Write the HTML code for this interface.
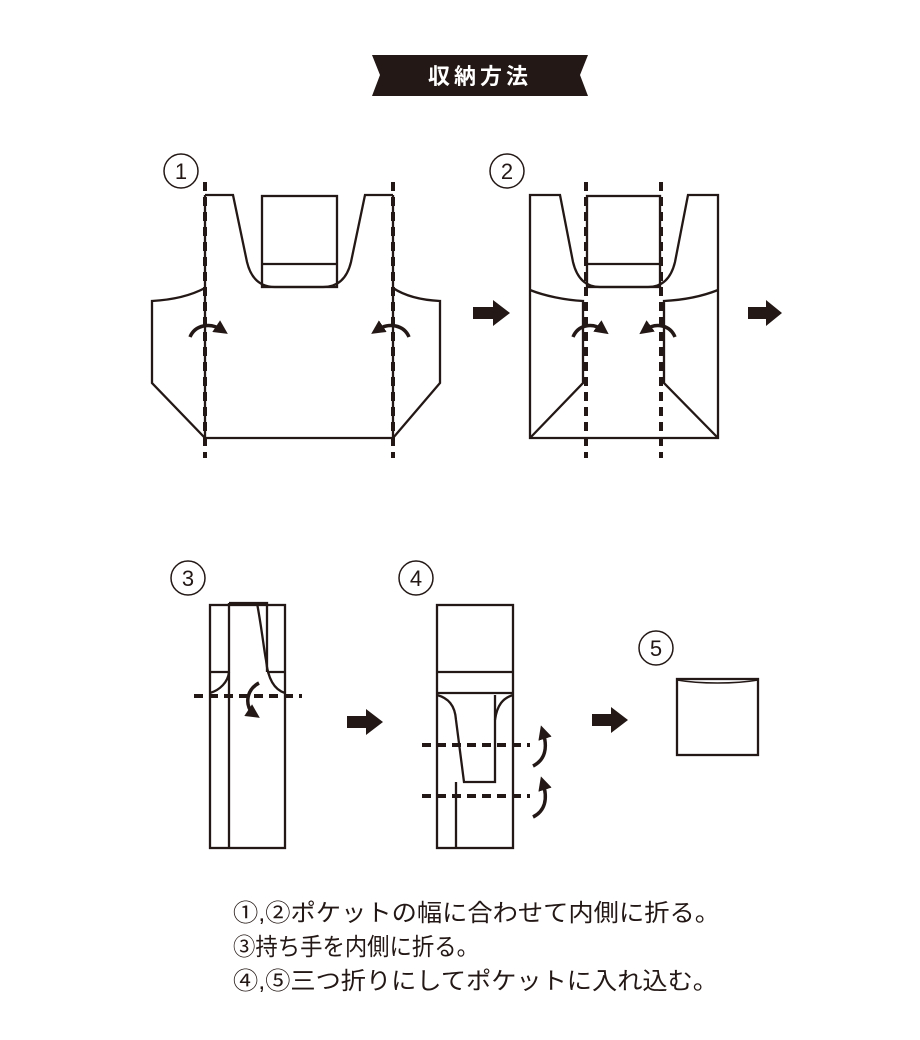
<!DOCTYPE html>
<html><head><meta charset="utf-8"><style>
html,body{margin:0;padding:0;background:#fff;}
svg{display:block;}
text{font-family:"Liberation Sans","Noto Sans CJK JP",sans-serif;fill:#231815;}
</style></head><body>
<svg width="920" height="1040" viewBox="0 0 920 1040" xmlns="http://www.w3.org/2000/svg">
<defs>
<marker id="ah" viewBox="0 0 10 10" refX="5" refY="5" markerWidth="4" markerHeight="4" orient="auto"><path d="M0,0 L10,5 L0,10 Z" fill="#231815"/></marker>
</defs>
<path d="M372,55 L588,55 L580,75 L588,96 L372,96 L380,75 Z" fill="#231815"/>
<text x="480" y="84" font-size="22" font-weight="bold" text-anchor="middle" style="fill:#fff" letter-spacing="4">収納方法</text>

<g fill="none" stroke="#231815" stroke-width="2.3">
<circle cx="181" cy="171" r="17" stroke-width="1.5"/>
<path d="M205,195 L233,195 L247,262 Q253,287 275,287 L323,287 Q345,287 351,262 L365,195 L393,195"/>
<rect x="262" y="196" width="75" height="91"/>
<line x1="262" y1="264" x2="337" y2="264"/>
<path d="M205,288 C190,296 170,300 152,301 L152,383 L205,438 L393,438 L440,383 L440,301 C420,300 405,296 393,288"/>
<line x1="205" y1="195" x2="205" y2="438"/>
<line x1="393" y1="195" x2="393" y2="438"/>
<circle cx="507" cy="171" r="17" stroke-width="1.5"/>
<path d="M530,195 L560,195 L573,262 Q579,287 600,287 L648,287 Q669,287 675,262 L688,195 L718,195 L718,438 L530,438 Z"/>
<rect x="587" y="196" width="73" height="91"/>
<line x1="587" y1="264" x2="660" y2="264"/>
<path d="M530,290 C545,296 565,300 583,301 L583,383 L530,438"/>
<path d="M718,290 C703,296 683,300 664,301 L664,383 L718,438"/>
<circle cx="188" cy="578" r="17" stroke-width="1.5"/>
<rect x="210" y="605" width="75" height="243"/>
<line x1="229" y1="603" x2="229" y2="848"/>
<path d="M229,603 L267,603 L267,672"/>
<path d="M257,603 C262,630 264,650 266,660 C268,680 275,690 285,693"/>
<line x1="210" y1="672" x2="229" y2="672"/>
<line x1="267" y1="672" x2="285" y2="672"/>
<path d="M210,693 C220,690 228,682 229,672"/>
<circle cx="416" cy="578" r="17" stroke-width="1.5"/>
<rect x="437" y="605" width="76" height="243"/>
<line x1="437" y1="672" x2="513" y2="672"/>
<line x1="437" y1="693" x2="513" y2="693"/>
<path d="M437,695 C448,698 455,705 456,720 L464,782 L495,782 L495,695"/>
<path d="M513,695 C503,698 497,705 495,720"/>
<line x1="456" y1="782" x2="456" y2="848"/>
<circle cx="656" cy="648" r="17" stroke-width="1.5"/>
<rect x="677" y="679" width="81" height="76"/>
<path d="M677,680 C700,684 735,684 758,680" stroke-width="1.5"/>
</g>

<g fill="none" stroke="#231815" stroke-width="4" stroke-dasharray="9,6">
<line x1="205" y1="182" x2="205" y2="458"/>
<line x1="393" y1="182" x2="393" y2="458"/>
<line x1="586" y1="182" x2="586" y2="458"/>
<line x1="661" y1="182" x2="661" y2="458"/>
<line x1="194" y1="696" x2="302" y2="696"/>
<line x1="422" y1="745" x2="530" y2="745"/>
<line x1="422" y1="796" x2="530" y2="796"/>
</g>

<g fill="none" stroke="#231815" stroke-width="3.5" marker-end="url(#ah)">
<path d="M190,337 C195,325 210,322 222,330"/>
<path d="M409,337 C404,325 389,322 377,330"/>
<path d="M573,337 C578,325 592,322 603,330"/>
<path d="M675,337 C670,325 656,322 645,330"/>
<path d="M259,683 C245,690 245,708 254,714"/>
<path d="M533,766 C545,760 548,748 543,732"/>
<path d="M533,817 C545,811 548,799 543,783"/>
</g>

<g fill="#231815">
<path d="M473,307 L493,307 L493,300 L510,313 L493,326 L493,319 L473,319 Z"/>
<path d="M748,307 L766,307 L766,300 L782,313 L766,326 L766,319 L748,319 Z"/>
<path d="M347,716 L366,716 L366,709 L383,722 L366,735 L366,728 L347,728 Z"/>
<path d="M592,714 L611,714 L611,707 L628,720 L611,733 L611,726 L592,726 Z"/>
</g>

<g font-size="22" text-anchor="middle">
<text x="181" y="179">1</text>
<text x="507" y="179">2</text>
<text x="188" y="586">3</text>
<text x="416" y="586">4</text>
<text x="656" y="656">5</text>
</g>

<g font-size="24">
<text x="233" y="921" textLength="487" lengthAdjust="spacingAndGlyphs">①,②ポケットの幅に合わせて内側に折る。</text>
<text x="233" y="955" textLength="246" lengthAdjust="spacingAndGlyphs">③持ち手を内側に折る。</text>
<text x="233" y="989" textLength="485" lengthAdjust="spacingAndGlyphs">④,⑤三つ折りにしてポケットに入れ込む。</text>
</g>
</svg>
</body></html>
